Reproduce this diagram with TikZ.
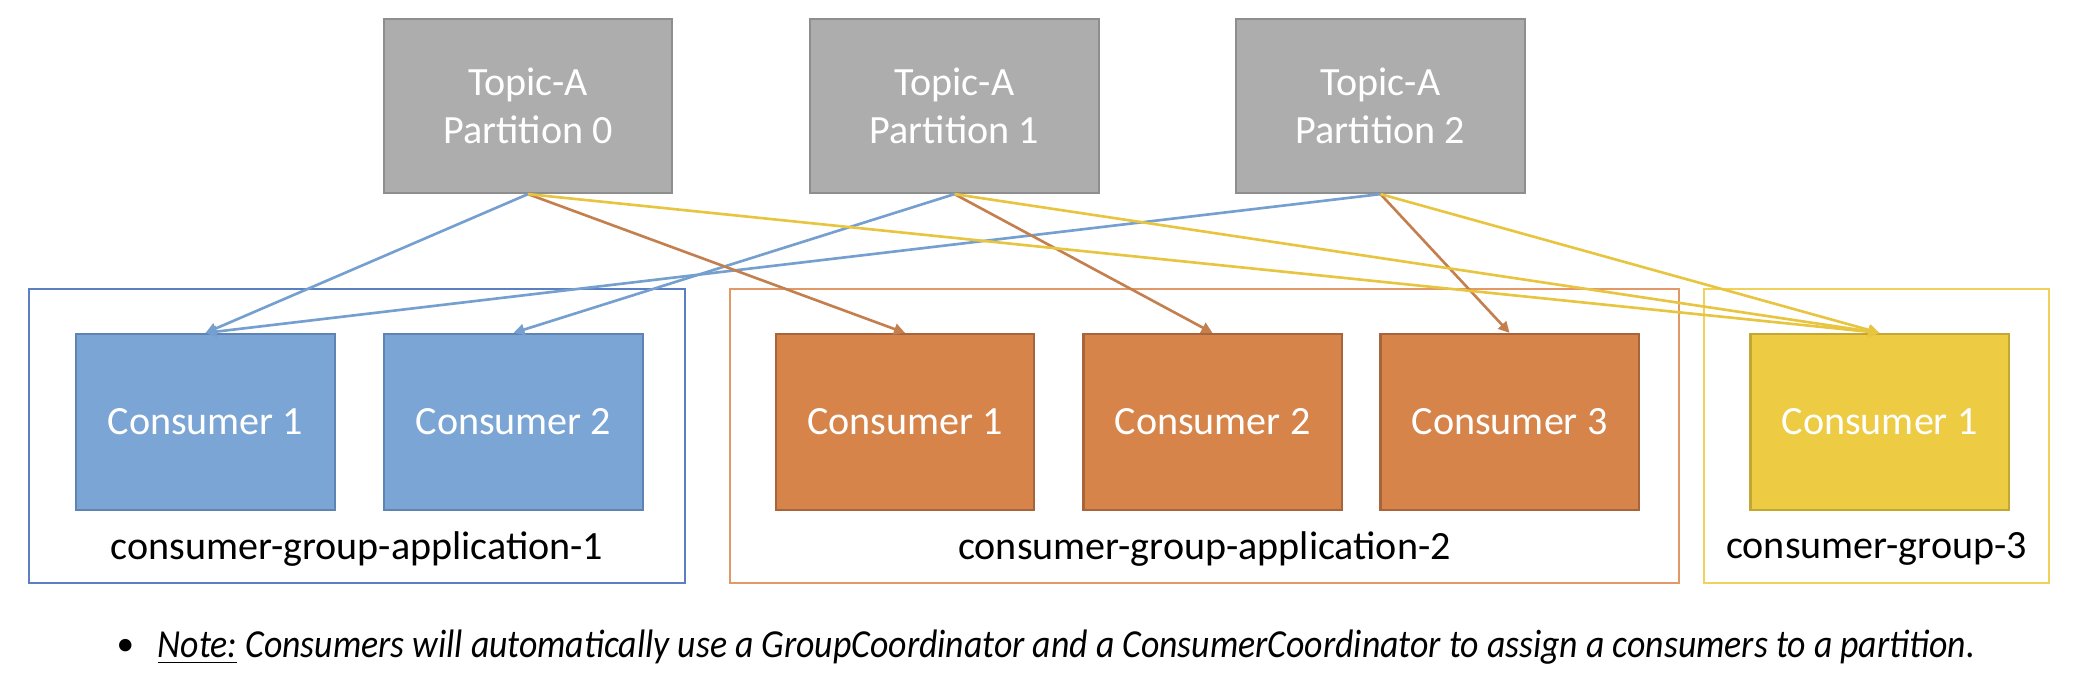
\documentclass[tikz,border=0pt]{standalone}
\usepackage{fontspec}
\setmainfont{Carlito}
\newfontfamily\notefont[FakeStretch=0.9]{Carlito}
\definecolor{topicgray}{HTML}{ADADAD}
\definecolor{topicline}{HTML}{8E8E8E}
\definecolor{cblue}{HTML}{7BA5D4}
\definecolor{cblueline}{HTML}{5E84B4}
\definecolor{corange}{HTML}{D6844A}
\definecolor{corangeline}{HTML}{A8643A}
\definecolor{cyellow}{HTML}{EDCB43}
\definecolor{cyellowline}{HTML}{C4A634}
\definecolor{gblue}{HTML}{5B7FC2}
\definecolor{gorange}{HTML}{E39868}
\definecolor{gyellow}{HTML}{F0D25A}
\definecolor{ablue}{HTML}{759FCF}
\definecolor{aorange}{HTML}{C47F4E}
\definecolor{ayellow}{HTML}{E8C540}
\usetikzlibrary{arrows.meta}

\begin{document}
\begin{tikzpicture}[x=0.01cm, y=-0.01cm,
    every node/.style={font=\fontsize{11.4}{13.7}\selectfont},
    topic/.style={rectangle, draw=topicline, fill=topicgray, line width=0.6pt, text=white, align=center, minimum width=2.88cm, minimum height=1.74cm},
    consumer/.style={rectangle, line width=0.6pt, text=white, minimum width=2.58cm, minimum height=1.76cm},
    group/.style={rectangle, line width=0.5pt, minimum height=2.94cm},
    link/.style={line width=0.75pt, -{Triangle[length=0.11cm, width=0.11cm]}}]
    \useasboundingbox (0,0) rectangle (2086,688);

    % group frames
    \node[group, draw=gblue, minimum width=6.56cm] (g1) at (357,436) {};
    \node[group, draw=gorange, minimum width=9.49cm] (g2) at (1204.5,436) {};
    \node[group, draw=gyellow, minimum width=3.45cm] (g3) at (1876.5,436) {};
    \node (l1) at (357,549) {consumer-group-application-1};
    \node (l2) at (1204.5,549) {consumer-group-application-2};
    \node (l3) at (1876.5,549) {consumer-group-3};

    % partitions
    \node[topic] (p0) at (528,106) {Topic-A\\Partition 0};
    \node[topic] (p1) at (954.5,106) {Topic-A\\Partition 1};
    \node[topic] (p2) at (1380.5,106) {Topic-A\\Partition 2};

    % consumers
    \node[consumer, draw=cblueline, fill=cblue] (b1) at (205.5,422) {Consumer 1};
    \node[consumer, draw=cblueline, fill=cblue] (b2) at (513.5,422) {Consumer 2};
    \node[consumer, draw=corangeline, fill=corange] (o1) at (905,422) {Consumer 1};
    \node[consumer, draw=corangeline, fill=corange] (o2) at (1212.5,422) {Consumer 2};
    \node[consumer, draw=corangeline, fill=corange] (o3) at (1509.5,422) {Consumer 3};
    \node[consumer, draw=cyellowline, fill=cyellow] (y1) at (1879.5,422) {Consumer 1};

    \draw[link, ablue] (p0.south) -- (b1.north);
    \draw[link, ablue] (p1.south) -- (b2.north);
    \draw[link, ablue] (p2.south) -- (b1.north);
    \draw[link, aorange] (p0.south) -- (o1.north);
    \draw[link, aorange] (p1.south) -- (o2.north);
    \draw[link, aorange] (p2.south) -- (o3.north);
    \draw[link, ayellow] (p0.south) -- (y1.north);
    \draw[link, ayellow] (p1.south) -- (y1.north);
    \draw[link, ayellow] (p2.south) -- (y1.north);

    % note
    \node[anchor=base west, inner sep=0pt, font=\fontsize{10}{12}\selectfont] (dot) at (116,655) {\textbullet};
    \node[anchor=base west, inner sep=0pt, font=\fontsize{11.3}{13}\notefont\itshape] (note) at (157,657) {\underline{Note:} Consumers will automatically use a GroupCoordinator and a ConsumerCoordinator to assign a consumers to a partition.};
\end{tikzpicture}
\end{document}
